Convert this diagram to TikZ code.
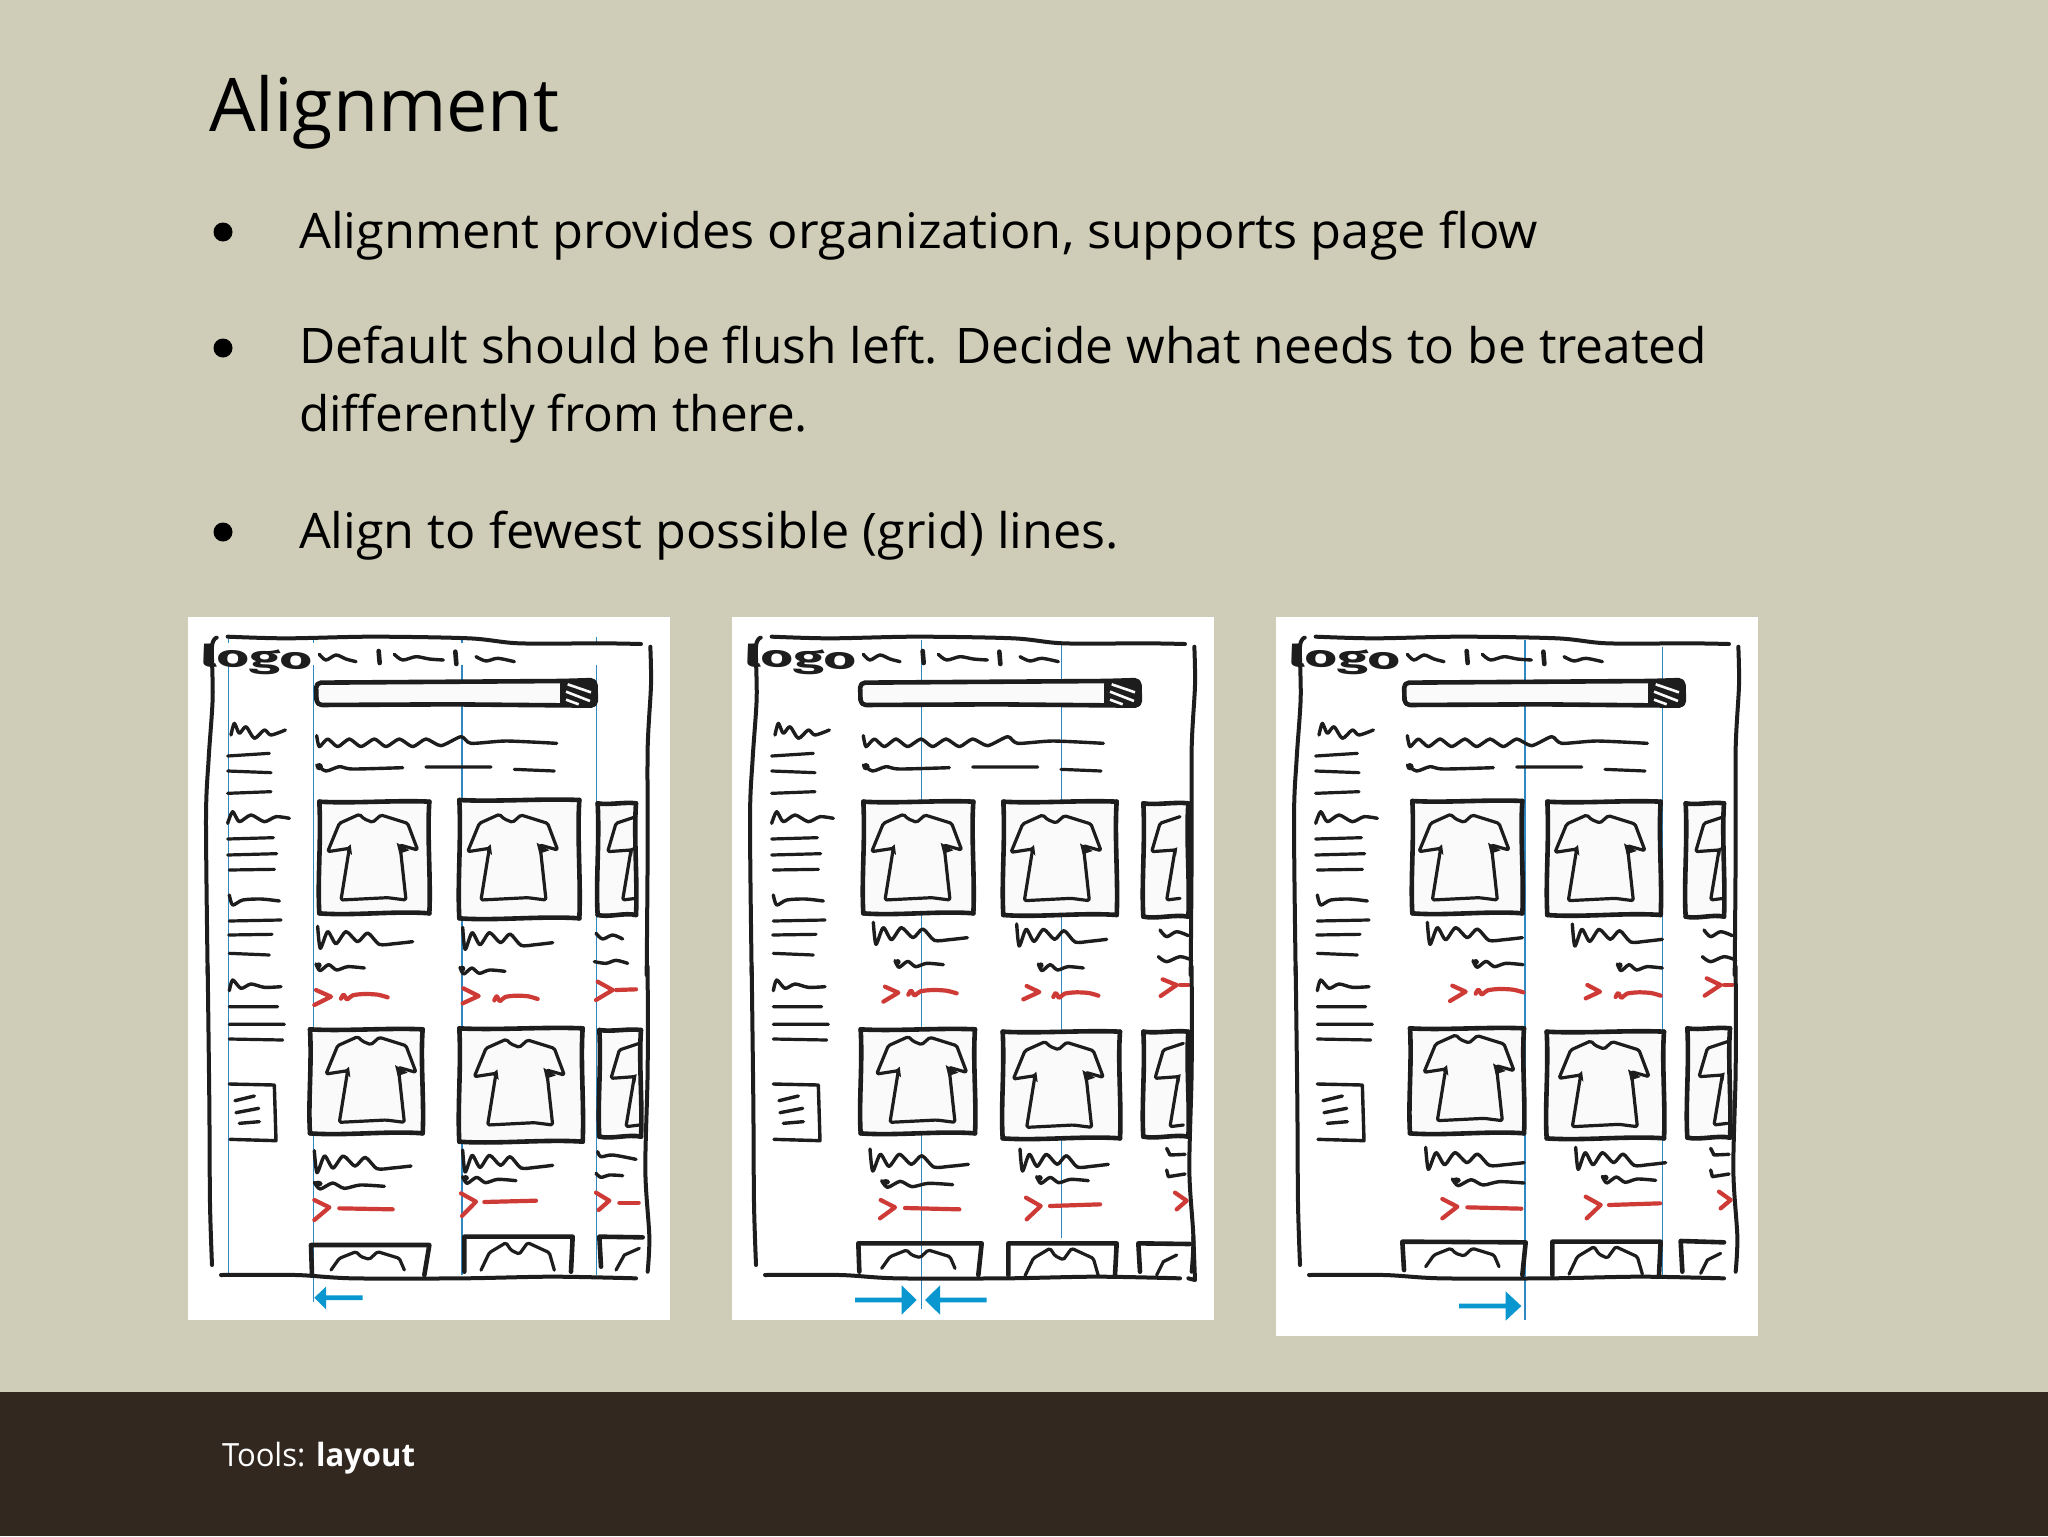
\documentclass[tikz,border=0pt]{standalone}
\usepackage{graphicx}
\usepackage{fontspec}
\setmainfont{Open Sans}
\newfontfamily\logofont{Fira Sans}
\definecolor{paper}{HTML}{CFCCB7}
\definecolor{band}{HTML}{32281F}
\definecolor{sheet}{HTML}{FBFAFB}
\definecolor{ink}{HTML}{1E1D1D}
\definecolor{pen}{HTML}{CE3A35}
\definecolor{gridl}{HTML}{2F88C2}
\definecolor{arrowb}{HTML}{0A97D0}
\tikzset{
  x=0.5pt,y=-0.5pt,
  up1/.style={shift={(186,615)},scale=0.33333},
  lo1/.style={shift={(186,970)},scale=0.33333},
  up2/.style={shift={(730,615)},scale=0.33333},
  lo2/.style={shift={(730,970)},scale=0.33333},
  up3/.style={shift={(1274,615)},scale=0.33333},
  lo3/.style={shift={(1274,975)},scale=0.33333},
  inkb/.style={draw=ink,line width=2.3pt,line cap=round,line join=round},
  inkm/.style={draw=ink,line width=1.6pt,line cap=round,line join=round},
  inkt/.style={draw=ink,line width=1.7pt,line cap=round,line join=round},
  inkf/.style={draw=ink,line width=2pt,line cap=round,line join=round},
  redp/.style={draw=pen,line width=2.1pt,line cap=round,line join=round},
  gridline/.style={draw=gridl,line width=0.8pt},
  txt/.style={anchor=base west,inner sep=0pt,outer sep=0pt,text=black},
}
\newcommand\wbox[4]{%
  \path[fill=sheet] (#1,#2) rectangle (#3,#4);
  \draw[inkb] (#1,#2) .. controls ({#1+.3*(#3-#1)},{#2+6}) and ({#1+.7*(#3-#1)},{#2-5}) .. (#3,#2);
  \draw[inkb] (#3,#2) .. controls ({#3-7},{#2+.3*(#4-#2)}) and ({#3+5},{#2+.7*(#4-#2)}) .. (#3,#4);
  \draw[inkb] (#1,#2) .. controls ({#1+6},{#2+.35*(#4-#2)}) and ({#1-6},{#2+.7*(#4-#2)}) .. (#1,#4);
  \draw[inkb] (#1,#4) .. controls ({#1+.3*(#3-#1)},{#4+8}) and ({#1+.7*(#3-#1)},{#4-8}) .. (#3,#4);
}
\newcommand\tee[2]{%
  \begin{scope}[shift={(#1,#2)}]
  \draw[inkm,rounded corners=0.8pt] (-95,112) -- (-60,27) -- (0,0) -- (15,14) -- (40,24) -- (65,2) -- (145,27) -- (175,107) -- (122,92) -- (140,257) -- (85,250) -- (-55,257) -- (-30,102) -- cycle;
  \fill[ink] (-42,104) -- (-26,90) -- (-22,122) -- cycle;
  \fill[ink] (112,85) -- (150,108) -- (120,118) -- cycle;
  \end{scope}}
\newcommand\teetop[3]{%
  \begin{scope}[shift={(#1,#2)},yscale=#3]
  \draw[inkm,rounded corners=0.8pt] (-75,55) -- (-50,20) -- (0,0) -- (15,15) -- (40,23) -- (65,0) -- (130,20) -- (145,55);
  \end{scope}}
\newcommand\teepart[2]{%
  \begin{scope}[shift={(#1,#2)}]
  \draw[inkm,rounded corners=0.8pt] (0,0) -- (-60,20) -- (-85,105) -- (-15,100) -- (-40,250) -- (0,245);
  \fill[ink] (-25,98) -- (-8,92) -- (-12,118) -- cycle;
  \end{scope}}
\newcommand\sqt[3]{%
  \begin{scope}[shift={(#1,#2)},xscale=#3/285]
  \draw[inkt] plot[smooth,tension=.45] coordinates {(0,-38) (8,28) (30,-22) (55,14) (85,-22) (120,8) (150,-18) (185,16) (230,14) (285,8)};
  \end{scope}}
\newcommand\sqs[3]{%
  \begin{scope}[shift={(#1,#2)},xscale=#3/145]
  \draw[inkt] plot[smooth,tension=.45] coordinates {(0,-8) (12,12) (38,-6) (62,10) (95,0) (145,4)};
  \fill[ink] (8,-4) circle (9);
  \end{scope}}
\newcommand\chev[3]{\draw[redp] (#1) -- (#2) -- (#3);}
\newcommand\rsq[3]{%
  \begin{scope}[shift={(#1,#2)},xscale=#3/140]
  \draw[redp] plot[smooth,tension=.5] coordinates {(0,6) (8,-6) (18,8) (35,-4) (70,-8) (110,-6) (140,2)};
  \end{scope}}
\newcommand\rln[4]{\draw[redp] (#1,#2) -- (#3,#4);}
\newcommand\arrowR[4]{\fill[arrowb] (#1,{#4-7}) -- (#2,{#4-7}) -- (#2,{#4-44}) -- (#3,#4) -- (#2,{#4+44}) -- (#2,{#4+7}) -- (#1,{#4+7}) -- cycle;}
\newcommand\logoword{\node[inner sep=0pt,rotate=-2,text=ink] (logoword\thepanelno) at (212,135) {\resizebox{56pt}{11.5pt}{\logofont\bfseries logo}};}
\newcounter{panelno}
\newcommand\fixedU[1]{%
  % frame
  \draw[inkf] plot[smooth,tension=.5] coordinates {(125,65) (300,70) (560,65) (850,70) (1000,85) (1250,85) (1365,87)};
  \draw[inkf] plot[smooth,tension=.5] coordinates {(92,68) (78,95) (80,250) (68,430) (60,610) (65,1080)};
  \draw[inkf] plot[smooth,tension=.5] coordinates {(1393,95) (1395,210) (1385,400) (1385,700) (1382,1080)};
  \stepcounter{panelno}\logoword
  % nav
  \draw[inkt] plot[smooth,tension=.5] coordinates {(400,118) (420,135) (450,120) (480,132) (510,140)};
  \draw[inkb] (578,108) -- (581,144);
  \draw[inkt] plot[smooth,tension=.5] coordinates {(625,118) (650,135) (690,125) (730,132) (772,135)};
  \draw[inkb] (808,110) -- (811,147);
  \draw[inkt] plot[smooth,tension=.5] coordinates {(870,125) (900,138) (935,130) (985,140)};
  % search bar
  \draw[inkb,fill=sheet,rounded corners=2.5pt] (390,203) -- (1130,198) -- (1228,195) -- (1230,272) -- (800,268) -- (392,270) -- cycle;
  \fill[ink,rounded corners=2pt] (1122,195) -- (1228,193) -- (1232,275) -- (1122,275) -- cycle;
  \draw[sheet,line width=1.3pt] (1145,208) -- (1215,232) (1140,230) -- (1212,258) (1140,254) -- (1178,268);
  % left column
  \draw[inkt] plot[smooth,tension=.45] coordinates {(135,360) (145,325) (160,355) (180,335) (205,370) (235,345) (255,360) (298,345)};
  \draw[inkm] (125,423) -- (250,415) (125,468) -- (255,473) (125,535) -- (255,530);
  \draw[inkt] plot[smooth,tension=.45] coordinates {(125,625) (140,590) (160,620) (195,600) (235,620) (270,605) (310,610)};
  \draw[inkm] (125,672) -- (262,668) (125,720) -- (272,716) (130,765) -- (265,763);
  \draw[inkt] plot[smooth,tension=.45] coordinates {(130,840) (140,870) (170,855) (225,852) (280,858)};
  \draw[inkm] (130,918) -- (285,915) (128,960) -- (258,958) (130,1015) -- (250,1020);
  % header lines
  \begin{scope}[shift={(#1,0)}]
  \draw[inkt] plot[smooth,tension=.4] coordinates {(392,362) (400,395) (425,372) (455,395) (490,372) (525,395) (565,372) (600,395) (640,372) (680,395) (720,372) (765,392) (825,365) (855,385) (960,378) (1112,385)};
  \draw[inkt] plot[smooth,tension=.45] coordinates {(392,450) (420,468) (460,455) (500,462) (650,458)};
  \fill[ink] (400,455) circle (11);
  \draw[inkm] (720,456) -- (915,456) (985,463) -- (1105,468);
  \end{scope}
}
\newcommand\fixedL{%
  \draw[inkf] plot[smooth,tension=.5] coordinates {(65,-10) (70,400) (72,700) (78,885)};
  \draw[inkf] plot[smooth,tension=.5] coordinates {(1385,-10) (1385,300) (1378,600) (1390,800) (1385,905)};
  \draw[inkf] plot[smooth,tension=.5] coordinates {(105,915) (330,915) (500,925) (830,925) (1100,920) (1350,925)};
  \draw[inkt] plot[smooth,tension=.45] coordinates {(130,62) (140,30) (165,55) (195,42) (235,52) (285,50)};
  \draw[inkm] (130,110) -- (275,110) (130,163) -- (295,163) (130,207) -- (290,210);
  \draw[inkt] (130,342) -- (265,345) -- (270,512) -- (132,508);
  \draw[inkt] (147,392) -- (205,378) (150,428) -- (218,415) (160,460) -- (220,455);
}
\begin{document}
\begin{tikzpicture}
\useasboundingbox (0,0) rectangle (2048,1536);
\fill[paper] (0,0) rectangle (2048,1536);
\fill[band] (0,1392) rectangle (2048,1536);
% text
\node[txt] (title) at (209,132) {\resizebox{175pt}{\height}{\fontsize{37}{40}\selectfont Alignment}};
\node[txt] (l1) at (299,248) {\resizebox{619.5pt}{\height}{\fontsize{24.5}{30}\selectfont Alignment provides organization, supports page flow}};
\node[txt] (l2) at (299,363) {\resizebox{704pt}{\height}{\fontsize{24.5}{30}\selectfont Default should be flush left. Decide what needs to be treated}};
\node[txt] (l3) at (299,431) {\resizebox{254.5pt}{\height}{\fontsize{24.5}{30}\selectfont differently from there.}};
\node[txt] (l4) at (299,548) {\resizebox{410pt}{\height}{\fontsize{24.5}{30}\selectfont Align to fewest possible (grid) lines.}};
\fill[black] (223,232) circle (9.5) (223,348) circle (9.5) (223,532) circle (9.5);
\node[txt,text=white] (foot) at (222,1466) {\resizebox{96.5pt}{\height}{\fontsize{16}{20}\selectfont Tools: \textbf{layout}}};
% sheets
\fill[white] (188,617) rectangle (670,1320);
\fill[white] (732,617) rectangle (1214,1320);
\fill[white] (1276,617) rectangle (1758,1336);

%%% PANEL 1
\begin{scope}[up1]
\draw[gridline] (127,65) -- (127,85) (127,150) -- (127,1980);
\draw[gridline] (382,65) -- (382,85) (382,150) -- (382,2060);
\draw[gridline] (828,65) -- (828,85) (828,150) -- (828,1980);
\draw[gridline] (1232,65) -- (1232,85) (1232,150) -- (1232,1980);
\fixedU{0}
\wbox{400}{560}{730}{895} \tee{520}{598}
\wbox{820}{555}{1180}{910} \tee{940}{598}
\wbox{1235}{565}{1350}{900} \teepart{1350}{605}
\sqt{395}{972}{285} \sqt{830}{975}{270}
\draw[inkt] plot[smooth,tension=.5] coordinates {(1230,955) (1250,972) (1280,960) (1310,972)};
\draw[inkt] plot[smooth,tension=.5] coordinates {(1225,1040) (1260,1045) (1290,1036) (1325,1045)};
\end{scope}
\begin{scope}[lo1]
\sqs{390}{-10}{145} \sqs{822}{0}{135}
\chev{390,60}{435,80}{385,105} \rsq{465}{80}{140}
\chev{832,55}{878,78}{830,100} \rsq{925}{85}{130}
\chev{1235,35}{1280,60}{1230,90} \rln{1290}{60}{1350}{58}
\fixedL
\wbox{372}{178}{710}{490} \tee{515}{200}
\wbox{820}{175}{1190}{515} \tee{960}{208}
\wbox{1240}{180}{1365}{500} \teepart{1360}{220}
\sqt{385}{580}{290} \sqs{385}{645}{210}
\chev{385,690}{430,712}{385,750} \rln{460}{715}{620}{718}
\sqt{830}{578}{270} \sqs{830}{628}{160}
\chev{825,670}{870,695}{828,738} \rln{895}{696}{1050}{692}
\draw[inkt] plot[smooth,tension=.5] coordinates {(1235,545) (1245,560) (1280,555) (1350,568)};
\draw[inkt] plot[smooth,tension=.5] coordinates {(1230,610) (1245,622) (1270,615) (1310,617)};
\chev{1230,668}{1270,692}{1238,720} \rln{1300}{698}{1358}{698}
% bottom row
\draw[inkb] (378,915) -- (375,825) -- (730,825) -- (715,915);
\teetop{510}{845}{1}
\draw[inkb] (835,905) -- (835,800) -- (1160,800) -- (1155,905);
\teetop{960}{818}{1.5}
\draw[inkb] (1245,890) -- (1240,800) -- (1370,802);
\draw[inkm] (1290,900) -- (1315,855) -- (1360,835);
\fill[arrowb] (530,976) -- (420,976) -- (420,950) -- (385,983) -- (420,1018) -- (420,990) -- (530,990) -- cycle;
\end{scope}

%%% PANEL 2
\begin{scope}[up2]
\draw[gridline] (574,75) -- (574,2083);
\draw[gridline] (995,90) -- (995,1870);
\fixedU{8}
\wbox{400}{560}{730}{895} \tee{520}{598}
\wbox{820}{560}{1160}{900} \tee{938}{600}
\wbox{1240}{565}{1375}{905} \teepart{1350}{605}
\sqt{430}{960}{282} \sqt{860}{965}{270}
\draw[inkt] plot[smooth,tension=.5] coordinates {(1290,945) (1310,965) (1340,950) (1375,962)};
\draw[inkt] plot[smooth,tension=.5] coordinates {(1285,1025) (1310,1040) (1350,1025) (1385,1035)};
\end{scope}
\begin{scope}[lo2]
\sqs{495}{-20}{145} \sqs{925}{-10}{135}
\chev{465,50}{505,68}{460,95} \rsq{535}{68}{145}
\chev{890,48}{928,66}{880,88} \rsq{970}{75}{135}
\chev{1298,28}{1340,45}{1292,78} \rln{1350}{45}{1375}{45}
\fixedL
\draw[inkf] (1375,925) -- (1395,930) -- (1390,800);
\wbox{392}{178}{735}{490} \tee{535}{200}
\wbox{818}{185}{1170}{505} \tee{945}{215}
\wbox{1240}{185}{1375}{500} \teepart{1360}{220}
\sqt{420}{575}{295} \sqs{455}{640}{213}
\chev{452,690}{495,712}{450,745} \rln{525}{714}{688}{718}
\sqt{870}{575}{265} \sqs{920}{628}{155}
\chev{888,683}{932,708}{890,748} \rln{960}{708}{1110}{703}
\draw[inkt] (1310,535) -- (1320,555) -- (1365,553);
\draw[inkt] (1310,600) -- (1315,620) -- (1365,612);
\chev{1335,668}{1370,692}{1340,718}
\draw[inkb] (388,905) -- (385,820) -- (755,820) -- (745,915);
\teetop{530}{840}{1}
\draw[inkb] (835,915) -- (835,820) -- (1160,820) -- (1155,915);
\teetop{960}{835}{1.5}
\draw[inkb] (1230,905) -- (1225,820) -- (1380,822);
\draw[inkm] (1280,915) -- (1300,875) -- (1340,855);
\arrowR{375}{515}{560}{990}
\arrowR{770}{630}{585}{990}
\end{scope}

%%% PANEL 3
\begin{scope}[up3]
\draw[gridline] (753,75) -- (753,2115);
\draw[gridline] (1166,95) -- (1166,1985);
\fixedU{8}
\wbox{415}{558}{745}{895} \tee{530}{598}
\wbox{820}{560}{1160}{900} \tee{938}{600}
\wbox{1235}{565}{1350}{905} \teepart{1350}{605}
\sqt{460}{960}{285} \sqt{895}{965}{270}
\draw[inkt] plot[smooth,tension=.5] coordinates {(1290,945) (1310,965) (1340,950) (1375,962)};
\draw[inkt] plot[smooth,tension=.5] coordinates {(1285,1025) (1310,1040) (1350,1025) (1385,1035)};
\end{scope}
\begin{scope}[lo3]
\sqs{597}{-35}{150} \sqs{1030}{-25}{135}
\chev{535,32}{575,50}{528,78} \rsq{605}{50}{143}
\chev{940,30}{978,50}{935,70} \rsq{1025}{60}{135}
\chev{1298,10}{1340,30}{1292,62} \rln{1350}{30}{1375}{30}
\begin{scope}[shift={(0,-15)}]\fixedL\end{scope}
\wbox{408}{160}{750}{475} \tee{545}{180}
\wbox{818}{170}{1170}{490} \tee{950}{198}
\wbox{1240}{160}{1368}{488} \teepart{1360}{200}
\sqt{455}{555}{295} \sqs{535}{620}{215}
\chev{505,672}{550,695}{505,730} \rln{580}{697}{742}{701}
\sqt{905}{555}{270} \sqs{985}{612}{160}
\chev{935,665}{980,690}{938,730} \rln{1005}{690}{1158}{685}
\draw[inkt] (1310,520) -- (1320,540) -- (1365,538);
\draw[inkt] (1310,585) -- (1315,605) -- (1365,597);
\chev{1335,650}{1370,675}{1340,700}
\draw[inkb] (390,885) -- (385,800) -- (755,802) -- (745,900);
\teetop{530}{820}{1}
\draw[inkb] (835,900) -- (835,800) -- (1160,800) -- (1155,900);
\teetop{960}{815}{1.5}
\draw[inkb] (1225,890) -- (1220,798) -- (1350,802);
\draw[inkm] (1280,895) -- (1300,855) -- (1340,835);
\arrowR{555}{695}{742}{993}
\end{scope}
\end{tikzpicture}
\end{document}
